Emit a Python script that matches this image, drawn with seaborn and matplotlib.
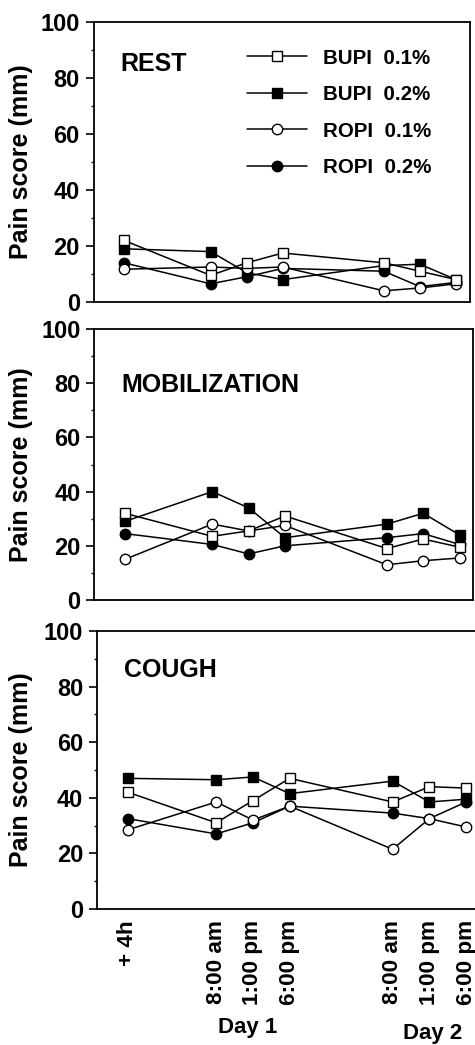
import pandas as pd
import matplotlib
matplotlib.use('Agg')
import matplotlib.pyplot as plt
import seaborn as sns
from matplotlib.lines import Line2D
from matplotlib.ticker import MultipleLocator

# time points (hours after +4h) and labels
hours = [0, 12, 17, 22, 36, 41, 46]
tick_labels = ['+ 4h', '8:00 am', '1:00 pm', '6:00 pm', '8:00 am', '1:00 pm', '6:00 pm']

groups = ['BUPI  0.1%', 'BUPI  0.2%', 'ROPI  0.1%', 'ROPI  0.2%']

# REST
rest_bupi01 = [22, 9.5, 14, 17.5, 14, 11, 8]
rest_bupi02 = [19, 18, 10.5, 8, 13, 13.5, 8]
rest_ropi01 = [11.7, 12.5, 12, 12.5, 4, 5, 6.5]
rest_ropi02 = [14, 6.5, 9, 12, 11, 5.5, 7]

# MOBILIZATION
mob_bupi01 = [32, 23.5, 25.5, 31, 19, 22.5, 19.5]
mob_bupi02 = [29, 40, 34, 23, 28, 32, 24]
mob_ropi01 = [15, 28, 25.5, 27.5, 13, 14.5, 15.5]
mob_ropi02 = [24.5, 20.5, 17, 20, 23, 24.5, 20.5]

# COUGH
cough_bupi01 = [42, 31, 39, 47, 38.5, 44, 43.5]
cough_bupi02 = [47, 46.5, 47.5, 41.5, 46, 38.5, 39.5]
cough_ropi01 = [28.5, 38.5, 32, 37, 21.5, 32.5, 29.5]
cough_ropi02 = [32.5, 27, 31, 37, 34.5, 32.5, 38.5]

panels = [
    ('REST', [rest_bupi01, rest_bupi02, rest_ropi01, rest_ropi02]),
    ('MOBILIZATION', [mob_bupi01, mob_bupi02, mob_ropi01, mob_ropi02]),
    ('COUGH', [cough_bupi01, cough_bupi02, cough_ropi01, cough_ropi02]),
]

# marker style per group
styles = {
    'BUPI  0.1%': ('s', 'white'),
    'BUPI  0.2%': ('s', 'black'),
    'ROPI  0.1%': ('o', 'white'),
    'ROPI  0.2%': ('o', 'black'),
}
draw_order = ['BUPI  0.2%', 'ROPI  0.2%', 'ROPI  0.1%', 'BUPI  0.1%']

sns.set_style('ticks')
plt.rcParams['font.family'] = ['Liberation Sans', 'DejaVu Sans']
plt.rcParams['font.weight'] = 'bold'
for k in ['text.color', 'axes.labelcolor', 'xtick.color', 'ytick.color']:
    plt.rcParams[k] = 'black'

W, H = 475, 1045
fig = plt.figure(figsize=(W / 100, H / 100), dpi=100)

# axes boxes in pixels: left, top, width, height
boxes = [(93.7, 22, 376, 280), (94.4, 329, 379, 271), (97.1, 631, 383, 278)]
label_xy = [(0.07, 0.85), (0.07, 0.793), (0.07, 0.86)]

axes = []
for i, ((name, vals), (l, t, w, h)) in enumerate(zip(panels, boxes)):
    ax = fig.add_axes([l / W, 1 - (t + h) / H, w / W, h / H])
    axes.append(ax)
    df = pd.DataFrame({'hour': hours * 4,
                       'score': sum(vals, []),
                       'group': [g for g in groups for _ in hours]})
    for z, g in enumerate(draw_order):
        mk, fc = styles[g]
        sub = df[df['group'] == g]
        sns.lineplot(data=sub, x='hour', y='score', ax=ax, color='black',
                     linewidth=1.1, marker=mk, markersize=7.5,
                     markerfacecolor=fc, markeredgecolor='black',
                     markeredgewidth=1.0, clip_on=False, zorder=3 + z)

    ax.set_xlim(-4.2, 47.9)
    ax.set_ylim(0, 100)
    ax.yaxis.set_major_locator(MultipleLocator(20))
    ax.yaxis.set_minor_locator(MultipleLocator(10))
    ax.tick_params(axis='y', which='major', length=6, width=1.2, pad=4,
                   labelsize=17, direction='out')
    ax.tick_params(axis='y', which='minor', length=2.5, width=1.0, direction='out')
    for sp in ax.spines.values():
        sp.set_visible(True)
        sp.set_linewidth(1.3)
        sp.set_color('black')
    ax.set_xlabel('')
    ax.set_ylabel('Pain score (mm)', fontsize=18, fontweight='bold')
    ax.yaxis.set_label_coords((33 - l) / w, 0.5)
    for lab in ax.get_yticklabels():
        lab.set_fontweight('bold')
    ax.set_xticks(hours)
    if i < 2:
        ax.set_xticklabels([])
        ax.tick_params(axis='x', length=0)
    else:
        ax.set_xticklabels(tick_labels, rotation=90, fontsize=16.2, fontweight='bold')
        ax.tick_params(axis='x', length=0, pad=8)
    ax.text(label_xy[i][0], label_xy[i][1], name, transform=ax.transAxes,
            fontsize=18, fontweight='bold', ha='left', va='center')
    if ax.get_legend() is not None:
        ax.get_legend().remove()

# legend in the top panel
handles = [Line2D([], [], color='black', linewidth=1.1, marker=styles[g][0],
                  markersize=7.5, markerfacecolor=styles[g][1],
                  markeredgecolor='black') for g in groups]
axes[0].legend(handles, groups, loc='upper left', bbox_to_anchor=(0.408, 0.905),
               frameon=False, handlelength=2.9, handletextpad=0.8,
               labelspacing=0.85, borderpad=0, borderaxespad=0,
               prop={'weight': 'bold', 'size': 14.8})

fig.text(248 / W, 1 - 1027 / H, 'Day 1', ha='center', va='center',
         fontsize=16, fontweight='bold')
fig.text(433 / W, 1 - 1034 / H, 'Day 2', ha='center', va='center',
         fontsize=16, fontweight='bold')

fig.savefig('out.png', dpi=100)
